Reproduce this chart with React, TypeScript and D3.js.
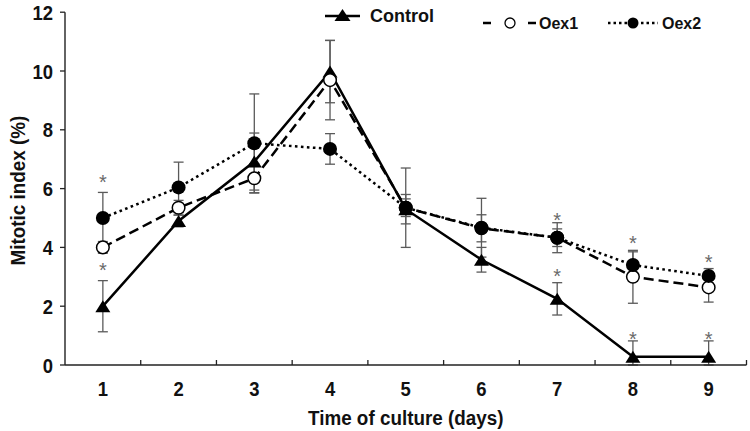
import React from "react";
import * as d3 from "d3";

const days = [1, 2, 3, 4, 5, 6, 7, 8, 9];
const controlMean = [2.0, 4.9, 6.92, 9.98, 5.3, 3.58, 2.25, 0.28, 0.28];
const controlErr = [0.87, 0.2, 0.97, 1.06, 0.5, 0.42, 0.55, 0.54, 0.54];
const oex1Mean = [4.0, 5.35, 6.35, 9.69, 5.35, 4.65, 4.33, 3.0, 2.64];
const oex1Err = [0.2, 0.25, 0.5, 1.35, 0.3, 0.46, 0.3, 0.9, 0.5];
const oex2Mean = [5.0, 6.04, 7.54, 7.35, 5.35, 4.67, 4.33, 3.4, 3.03];
const oex2Err = [0.87, 0.86, 1.68, 0.52, 1.35, 1.0, 0.51, 0.45, 0.25];
const starDays = [1, 1, 7, 7, 8, 8, 9, 9];
const starValues = [6.36, 3.37, 5.08, 3.17, 4.29, 1.02, 3.63, 1.02];
const yTicks = [0, 2, 4, 6, 8, 10, 12];

const W = 750;
const H = 431;
const left = 65;
const right = 746.5;
const top = 12.2;
const bottom = 365;

const FONT = "'Liberation Sans', Arial, sans-serif";

export default function App() {
  const x = d3.scaleBand<number>().domain(days).range([left, right]).padding(0);
  const y = d3.scaleLinear().domain([0, 12]).range([bottom, top]);
  const cx = (d: number) => (x(d) as number) + x.bandwidth() / 2;

  const line = d3
    .line<[number, number]>()
    .x((p) => cx(p[0]))
    .y((p) => y(p[1]));

  const series = [
    { mean: controlMean, err: controlErr, dash: undefined as string | undefined },
    { mean: oex1Mean, err: oex1Err, dash: "10,5" },
    { mean: oex2Mean, err: oex2Err, dash: "2.6,3.4" },
  ];

  const tri = (px: number, py: number, w = 15, h = 12) =>
    `M${px - w / 2},${py + h / 2}L${px + w / 2},${py + h / 2}L${px},${py - h / 2}Z`;

  const boundaries = days.map((d) => (x(d) as number) + x.bandwidth());

  return (
    <svg
      width={W}
      height={H}
      style={{ position: "absolute", left: 0, top: 0, background: "#fff" }}
    >
      <rect x={0} y={0} width={W} height={H} fill="#fff" />
      {/* error bars */}
      {series.map((s, si) =>
        days.map((d, i) => {
          const px = cx(d);
          const y1 = y(s.mean[i] + s.err[i]);
          const y2 = y(Math.max(0, s.mean[i] - s.err[i]));
          return (
            <g key={`e${si}-${i}`} stroke="#5a5a5a" strokeWidth={1.3}>
              <line x1={px} x2={px} y1={y1} y2={y2} />
              <line x1={px - 5} x2={px + 5} y1={y1} y2={y1} />
              <line x1={px - 5} x2={px + 5} y1={y2} y2={y2} />
            </g>
          );
        })
      )}
      {/* lines */}
      {series.map((s, si) => (
        <path
          key={`l${si}`}
          d={line(days.map((d, i) => [d, s.mean[i]] as [number, number])) || ""}
          fill="none"
          stroke="#000"
          strokeWidth={2.5}
          strokeDasharray={s.dash}
        />
      ))}
      {/* markers */}
      {days.map((d, i) => (
        <path key={`t${i}`} d={tri(cx(d), y(controlMean[i]))} fill="#000" />
      ))}
      {days.map((d, i) => (
        <circle
          key={`o1${i}`}
          cx={cx(d)}
          cy={y(oex1Mean[i])}
          r={6.3}
          fill="#fff"
          stroke="#000"
          strokeWidth={1.5}
        />
      ))}
      {days.map((d, i) => (
        <circle key={`o2${i}`} cx={cx(d)} cy={y(oex2Mean[i])} r={7} fill="#000" />
      ))}
      {/* asterisks */}
      {starDays.map((d, i) => (
        <text
          key={`s${i}`}
          x={cx(d)}
          y={y(starValues[i]) + 11}
          textAnchor="middle"
          fontFamily={FONT}
          fontSize={20}
          fill="#6a6a6a"
        >
          *
        </text>
      ))}
      {/* axes */}
      <line x1={left} x2={left} y1={top} y2={bottom} stroke="#222" strokeWidth={1.4} />
      <line x1={left} x2={right} y1={bottom} y2={bottom} stroke="#222" strokeWidth={1.4} />
      {yTicks.map((t) => (
        <g key={`yt${t}`}>
          <line x1={left - 5} x2={left} y1={y(t)} y2={y(t)} stroke="#222" strokeWidth={1.3} />
          <text
            transform={`translate(53,${y(t) + 7.5}) scale(0.9,1)`}
            textAnchor="end"
            fontFamily={FONT}
            fontWeight="bold"
            fontSize={20.5}
            fill="#111"
          >
            {t}
          </text>
        </g>
      ))}
      {boundaries.map((b, i) => (
        <line key={`xt${i}`} x1={b} x2={b} y1={bottom} y2={bottom - 5} stroke="#222" strokeWidth={1.3} />
      ))}
      {days.map((d) => (
        <text
          key={`xl${d}`}
          transform={`translate(${cx(d)},395.5) scale(0.9,1)`}
          textAnchor="middle"
          fontFamily={FONT}
          fontWeight="bold"
          fontSize={20.5}
          fill="#111"
        >
          {d}
        </text>
      ))}
      <text
        transform={`translate(${(left + right) / 2},424.5) scale(0.92,1)`}
        textAnchor="middle"
        fontFamily={FONT}
        fontWeight="bold"
        fontSize={20.5}
        fill="#111"
      >
        Time of culture (days)
      </text>
      <text
        transform={`translate(25,${(top + bottom) / 2 + 2}) rotate(-90) scale(0.92,1)`}
        textAnchor="middle"
        fontFamily={FONT}
        fontWeight="bold"
        fontSize={20.5}
        fill="#111"
      >
        Mitotic index (%)
      </text>
      {/* legend */}
      <g>
        <line x1={325} x2={360} y1={16} y2={16} stroke="#000" strokeWidth={2.5} />
        <path d={tri(342.5, 15, 16, 12)} fill="#000" />
        <text x={370} y={22} fontFamily={FONT} fontWeight="bold" fontSize={18} fill="#111">
          Control
        </text>
        <line x1={483} x2={536} y1={23} y2={23} stroke="#000" strokeWidth={2.5} strokeDasharray="8,37" />
        <circle cx={510} cy={23} r={5} fill="#fff" stroke="#000" strokeWidth={1.3} />
        <text x={539} y={29} fontFamily={FONT} fontWeight="bold" fontSize={16} fill="#111">
          Oex1
        </text>
        <line x1={608} x2={658} y1={23} y2={23} stroke="#000" strokeWidth={2.5} strokeDasharray="2.5,3" />
        <circle cx={633} cy={23} r={5.5} fill="#000" />
        <text x={662} y={29} fontFamily={FONT} fontWeight="bold" fontSize={16} fill="#111">
          Oex2
        </text>
      </g>
    </svg>
  );
}
